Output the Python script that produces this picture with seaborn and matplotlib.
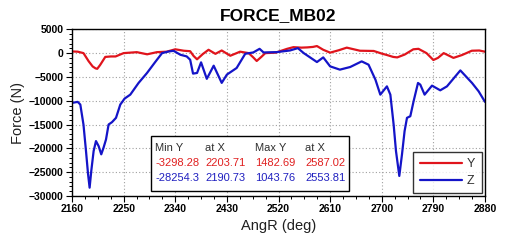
import matplotlib
matplotlib.use("Agg")
import matplotlib.pyplot as plt
from matplotlib.patches import Rectangle
from matplotlib.ticker import MultipleLocator
import seaborn as sns
import pandas as pd

# ---- data ----
y_ang = [2160, 2170, 2180, 2189, 2196, 2201, 2204, 2209, 2218, 2228, 2236, 2250, 2273, 2291,
         2308, 2325, 2340, 2355, 2366, 2372, 2378, 2388, 2398, 2410, 2421, 2436, 2453, 2468,
         2476, 2482, 2490, 2497, 2515, 2535, 2546, 2560, 2570, 2580, 2587, 2598, 2610, 2625,
         2639, 2662, 2686, 2700, 2709, 2720, 2727, 2740, 2755, 2764, 2778, 2790, 2798, 2808,
         2825, 2840, 2857, 2870, 2880]
y_force = [350, 300, 0, -1700, -2800, -3200, -3298, -2500, -800, -700, -700, 0, 200, -250,
           200, 300, 800, 500, 400, -600, -1300, -200, 700, -150, 550, -550, 300, 0,
           -900, -1650, -800, 0, 100, 900, 1250, 1150, 1200, 1300, 1483, 700, 100, 600,
           1150, 500, 450, -100, -400, -800, -900, -300, 800, 900, 0, -1450, -1000, 0,
           -1000, -400, 500, 550, 300]

z_ang = [2160, 2170, 2174.5, 2180, 2184.4, 2188, 2190.7, 2193.6, 2197.7, 2201.8, 2206.4, 2211,
         2215, 2219.3, 2223.8, 2229.7, 2236.7, 2244.2, 2251.7, 2261.6, 2276, 2290.7, 2305,
         2317, 2328, 2337, 2349, 2360, 2366, 2371, 2378, 2385, 2395, 2407, 2421, 2430, 2447,
         2462, 2476, 2487, 2494, 2517, 2540, 2553.8, 2564, 2587, 2598, 2610, 2627, 2645,
         2665, 2677, 2689, 2697.5, 2709, 2715, 2720.7, 2724.8, 2730.6, 2735.3, 2739.8, 2744,
         2749.8, 2755.5, 2763.2, 2767.2, 2774.7, 2787.6, 2802, 2813.7, 2837, 2857.4, 2868.9,
         2880]
z_force = [-10450, -10240, -10800, -15000, -20560, -25430, -28254, -24740, -20560, -18470,
           -19520, -21250, -19860, -18120, -14990, -14500, -13590, -10800, -9550, -8720,
           -6270, -4180, -1880, 0, 330, 486, -347, -694, -1390, -4300, -4170, -1940, -5400,
           -2640, -6250, -4510, -3125, -139, 139, 900, 139, 208, 555, 1044, 0, -1875, -900,
           -2780, -3470, -2917, -1736, -2430, -5580, -8720, -6980, -8720, -14990, -20560,
           -25790, -21250, -16380, -13590, -13250, -10110, -6270, -6620, -8720, -6830, -7810,
           -6980, -3630, -6270, -8020, -10240]

series_names = ["Y", "Z"]
stat_header = ["Min Y", "at X", "Max Y", "at X"]
stat_rows = [["-3298.28", "2203.71", "1482.69", "2587.02"],
             ["-28254.3", "2190.73", "1043.76", "2553.81"]]
x_ticks = [2160, 2250, 2340, 2430, 2520, 2610, 2700, 2790, 2880]
y_ticks = [5000, 0, -5000, -10000, -15000, -20000, -25000, -30000]

RED = "#e0141c"
BLUE = "#1414c8"

sns.set_style("white")
plt.rcParams["font.family"] = ["Liberation Sans", "DejaVu Sans"]
plt.rcParams["text.color"] = "black"
plt.rcParams["axes.labelcolor"] = "black"

W, H = 509, 243
fig = plt.figure(figsize=(W / 100, H / 100), dpi=100)
ax = fig.add_axes([72 / W, 1 - 196 / H, 413 / W, (196 - 29.3) / H])

df_y = pd.DataFrame({"AngR": y_ang, "Force": y_force})
df_z = pd.DataFrame({"AngR": z_ang, "Force": z_force})
sns.lineplot(data=df_y, x="AngR", y="Force", ax=ax, color=RED, lw=1.6, label=series_names[0])
sns.lineplot(data=df_z, x="AngR", y="Force", ax=ax, color=BLUE, lw=1.6, label=series_names[1])

ax.set_xlim(2160, 2880)
ax.set_ylim(-30000, 5000)
ax.set_xticks(x_ticks)
ax.set_yticks(y_ticks)
ax.xaxis.set_minor_locator(MultipleLocator(22.5))
ax.yaxis.set_minor_locator(MultipleLocator(1000))
ax.tick_params(axis="both", which="major", direction="out", length=4, width=0.8,
               labelsize=7.5, pad=2, colors="black", bottom=True, left=True)
ax.tick_params(axis="both", which="minor", direction="out", length=2.5, width=0.7,
               colors="black", bottom=True, left=True)
for lab in ax.get_xticklabels() + ax.get_yticklabels():
    lab.set_fontweight("bold")
ax.grid(True, which="major", linestyle=(0, (1, 2)), color="#a0a0a0", lw=0.8)
for s in ax.spines.values():
    s.set_color("black")
    s.set_linewidth(1.0)

ax.set_title("FORCE_MB02", fontsize=12.5, fontweight="bold", pad=7, color="black")
ax.set_xlabel("AngR (deg)", fontsize=10.5, labelpad=3, color="#202020")
ax.set_ylabel("Force (N)", fontsize=10.5, labelpad=3, color="#202020")

leg = ax.legend(loc="lower right", bbox_to_anchor=(481.7 / W, 1 - 193.3 / H),
                bbox_transform=fig.transFigure, frameon=True, fancybox=False,
                edgecolor="black", fontsize=9, handlelength=3.4, handletextpad=0.4,
                borderpad=0.5, labelspacing=0.4, borderaxespad=0)
leg.get_frame().set_linewidth(1.0)
for t in leg.get_texts():
    t.set_color("#303030")

# stats box
box = Rectangle((150.7 / W, 1 - 190.7 / H), (349.3 - 150.7) / W, (190.7 - 136) / H,
                transform=fig.transFigure, facecolor="white", edgecolor="black", lw=1.0,
                zorder=5)
fig.patches.append(box)
col_x = [155, 205, 255, 305]
row_y = [148.3, 163.3, 178.3]
row_colors = ["#303030", "#e02020", "#2020c0"]
rows = [stat_header] + stat_rows
for r, (vals, c) in enumerate(zip(rows, row_colors)):
    for cx, v in zip(col_x, vals):
        fig.text(cx / W, 1 - row_y[r] / H, v, fontsize=8, color=c, ha="left", va="center",
                 zorder=6)

fig.savefig("out.png", dpi=100)
